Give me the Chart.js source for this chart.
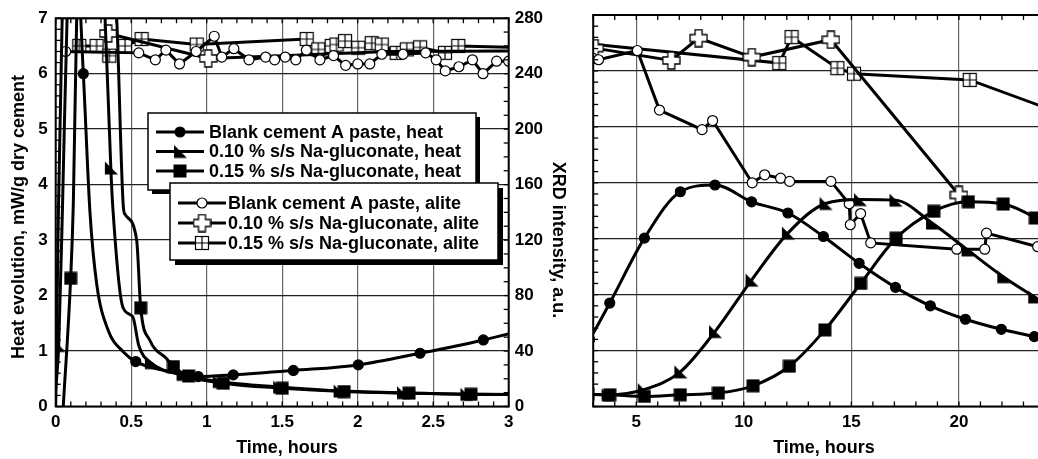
<!DOCTYPE html>
<html>
<head>
<meta charset="utf-8">
<script src="https://cdn.jsdelivr.net/npm/chart.js@4.4.0/dist/chart.umd.min.js"></script>
<style>
  html, body { margin: 0; padding: 0; background: #fff; overflow: hidden; }
  body { width: 1038px; height: 459px; position: relative; }
  #leftChart { position: absolute; left: 0; top: 0; }
  #rightChart { position: absolute; left: 585px; top: 0; }
</style>
</head>
<body>
<canvas id="leftChart" width="585" height="459"></canvas>
<canvas id="rightChart" width="470" height="459"></canvas>
<script>
// Time in hours, heat in mW/g dry cement, alite as XRD intensity (a.u.)
const blankHeatTime = [0, 0.015, 0.05, 0.11, 0.183, 0.227, 0.272, 0.348, 0.45, 0.53, 0.7, 0.944, 1.176, 1.574, 2.004, 2.413, 2.832, 3.77, 5.38, 7.05, 8.66, 10.36, 12.05, 13.7, 15.36, 17.05, 18.67, 20.3, 21.97, 23.5, 24.5];
const blankHeatValue = [0.0, 3.0, 8.0, 9.5, 6.0, 3.5, 2.2, 1.37, 0.98, 0.81, 0.66, 0.54, 0.57, 0.65, 0.75, 0.96, 1.2, 1.85, 3.01, 3.84, 3.96, 3.66, 3.46, 3.04, 2.56, 2.13, 1.80, 1.56, 1.38, 1.25, 1.15];

const gluc10HeatTime = [0, 0.02, 0.045, 0.08, 0.2, 0.327, 0.365, 0.378, 0.445, 0.51, 0.55, 0.63, 0.84, 1.08, 1.48, 1.88, 2.3, 2.72, 3.67, 5.35, 7.05, 8.66, 10.36, 12.05, 13.8, 15.4, 17.05, 18.75, 20.4, 22.06, 23.5, 24.5];
const gluc10HeatValue = [0.3, 1.1, 3.6, 7.5, 12, 7.0, 4.3, 3.6, 1.79, 1.62, 1.1, 0.79, 0.58, 0.45, 0.35, 0.28, 0.25, 0.22, 0.21, 0.30, 0.62, 1.34, 2.26, 3.10, 3.63, 3.70, 3.69, 3.28, 2.80, 2.32, 1.96, 1.72];

const gluc15HeatTime = [0.05, 0.099, 0.117, 0.139, 0.26, 0.404, 0.448, 0.46, 0.536, 0.563, 0.624, 0.735, 0.78, 0.88, 1.11, 1.5, 1.91, 2.34, 2.75, 3.77, 5.38, 7.05, 8.82, 10.43, 12.12, 13.77, 15.43, 17.08, 18.83, 20.44, 22.06, 23.55, 24.5];
const gluc15HeatValue = [0, 2.31, 3.69, 7.0, 12, 7.0, 3.6, 3.46, 3.0, 1.78, 1.19, 0.86, 0.72, 0.55, 0.42, 0.33, 0.27, 0.24, 0.22, 0.21, 0.18, 0.21, 0.24, 0.37, 0.72, 1.37, 2.2, 3.01, 3.49, 3.66, 3.62, 3.37, 3.1];

const blankAliteTime = [0.066, 0.55, 0.66, 0.73, 0.82, 0.93, 1.05, 1.1, 1.18, 1.28, 1.39, 1.45, 1.52, 1.59, 1.66, 1.75, 1.84, 1.92, 2.0, 2.08, 2.16, 2.3, 2.45, 2.52, 2.58, 2.67, 2.76, 2.83, 2.92, 3.0, 3.25, 5.05, 6.08, 8.06, 8.55, 10.39, 10.97, 11.71, 12.13, 14.05, 14.9, 14.95, 15.43, 15.9, 19.9, 21.2, 21.28, 23.66, 24.5];
const blankAliteValue = [256, 255, 250, 257, 247, 256, 267, 252, 258, 250, 252, 250, 252, 250, 257, 250, 253, 246, 247, 247, 254, 254, 255, 250, 242, 245, 250, 240, 249, 249, 248, 254.6, 212, 198, 204.5, 160, 165.7, 163.3, 161, 161, 145, 130, 138, 117, 112.5, 112.5, 124, 114.3, 113];

const gluc10AliteTime = [0.348, 1.01, 1.5, 2.2, 3.07, 6.63, 7.9, 10.37, 14.05, 20.0];
const gluc10AliteValue = [269, 251, 253, 256, 256.3, 247.5, 263.5, 249.9, 262.3, 151.3];

const gluc15AliteTime = [0.156, 0.271, 0.355, 0.459, 0.569, 0.934, 1.662, 1.739, 1.828, 1.86, 1.916, 2.004, 2.093, 2.159, 2.258, 2.325, 2.413, 2.578, 2.666, 3.0, 11.65, 12.22, 14.35, 15.12, 20.5, 24.5];
const gluc15AliteValue = [260, 260, 253, 260, 265, 261, 265, 257.5, 260, 261, 263.5, 258.7, 262, 261, 255, 257.5, 259, 255, 260, 259, 245.6, 264.2, 242, 238, 233.6, 211];

const seriesLabels = [
  'Blank cement A paste, heat',
  '0.10 % s/s Na-gluconate, heat',
  '0.15 % s/s Na-gluconate, heat',
  'Blank cement A paste, alite',
  '0.10 % s/s Na-gluconate, alite',
  '0.15 % s/s Na-gluconate, alite'
];

const FONT = '"Liberation Sans", Arial, Helvetica, sans-serif';

// Marker glyphs
function makeMarker(size, draw) {
  const c = document.createElement('canvas');
  c.width = size;
  c.height = size;
  draw(c.getContext('2d'), size);
  return c;
}

const triMarker = makeMarker(16, g => {
  g.fillStyle = '#000';
  g.beginPath();
  g.moveTo(2, 1.5);
  g.lineTo(2, 14.5);
  g.lineTo(15, 14.5);
  g.closePath();
  g.fill();
});

const squareMarker = makeMarker(14, g => {
  g.fillStyle = '#000';
  g.fillRect(0.5, 0.5, 13, 13);
});

const crossMarker = makeMarker(19, g => {
  const c = 9.5, a = 3.5, b = 8.5;
  const pts = [[c - a, c - b], [c + a, c - b], [c + a, c - a], [c + b, c - a], [c + b, c + a], [c + a, c + a],
               [c + a, c + b], [c - a, c + b], [c - a, c + a], [c - b, c + a], [c - b, c - a], [c - a, c - a]];
  g.beginPath();
  pts.forEach((p, i) => i ? g.lineTo(p[0], p[1]) : g.moveTo(p[0], p[1]));
  g.closePath();
  g.fillStyle = '#fff';
  g.fill();
  g.strokeStyle = '#000';
  g.lineWidth = 1.3;
  g.stroke();
});

const gridMarker = makeMarker(16, g => {
  g.fillStyle = '#fff';
  g.fillRect(1.5, 1.5, 13, 13);
  g.strokeStyle = '#000';
  g.lineWidth = 1.2;
  g.strokeRect(1.5, 1.5, 13, 13);
  g.beginPath();
  g.moveTo(8, 1.5); g.lineTo(8, 14.5);
  g.moveTo(1.5, 8); g.lineTo(14.5, 8);
  g.stroke();
});

const series = [
  { t: blankHeatTime, v: blankHeatValue, axis: 'y', style: 'circle', radius: 5, fill: '#000', plain: [0, 1, 2, 3, 5, 6, 7, 8, 10] },
  { t: gluc10HeatTime, v: gluc10HeatValue, axis: 'y', style: triMarker, radius: 7, fill: '#000', plain: [0, 2, 3, 4, 5, 7, 8, 9, 10] },
  { t: gluc15HeatTime, v: gluc15HeatValue, axis: 'y', style: squareMarker, radius: 7, fill: '#000', plain: [0, 2, 3, 4, 5, 6, 7, 8, 10, 11] },
  { t: blankAliteTime, v: blankAliteValue, axis: 'y2', style: 'circle', radius: 5, fill: '#fff', plain: [] },
  { t: gluc10AliteTime, v: gluc10AliteValue, axis: 'y2', style: crossMarker, radius: 7, fill: '#fff', plain: [2, 3] },
  { t: gluc15AliteTime, v: gluc15AliteValue, axis: 'y2', style: gridMarker, radius: 7, fill: '#fff', plain: [19] }
];

function buildDatasets() {
  return series.map((s, k) => ({
    label: seriesLabels[k],
    data: s.t.map((t, i) => ({ x: t, y: s.v[i] })),
    yAxisID: s.axis,
    borderColor: '#000',
    borderWidth: 3,
    tension: 0,
    cubicInterpolationMode: s.axis === 'y' ? 'monotone' : 'default',
    capBezierPoints: false,
    pointStyle: s.style,
    pointRadius: ctx => s.plain.includes(ctx.dataIndex) ? 0 : s.radius,
    pointBackgroundColor: s.fill,
    pointBorderColor: '#000',
    pointBorderWidth: 1.2,
    clip: 0
  }));
}

// Inward ticks and black frame round the plot area
const framePlugin = {
  id: 'frame',
  afterDatasetsDraw(chart, args, opts) {
    const { ctx, chartArea: a, scales } = chart;
    ctx.save();
    ctx.strokeStyle = '#000';
    ctx.lineWidth = 1.3;
    const len = 5;
    const seg = (x1, y1, x2, y2) => { ctx.beginPath(); ctx.moveTo(x1, y1); ctx.lineTo(x2, y2); ctx.stroke(); };
    const steps = (sc, step, fn) => {
      const n = Math.round((sc.max - sc.min) / step);
      for (let i = 0; i <= n; i++) fn(sc.getPixelForValue(sc.min + i * step));
    };
    steps(scales.x, opts.xMinor, px => { seg(px, a.bottom, px, a.bottom - len); seg(px, a.top, px, a.top + len); });
    steps(scales.y, opts.yMinor, py => seg(a.left, py, a.left + len, py));
    if (opts.y2Minor) steps(scales.y2, opts.y2Minor, py => seg(a.right, py, a.right - len, py));
    ctx.lineWidth = 2;
    ctx.strokeRect(a.left, a.top, a.width, a.height);
    ctx.restore();
  }
};

// Axis titles
const titlePlugin = {
  id: 'titles',
  afterDraw(chart, args, opts) {
    const ctx = chart.ctx;
    ctx.save();
    ctx.fillStyle = '#000';
    ctx.font = 'bold 18px ' + FONT;
    ctx.textAlign = 'center';
    ctx.textBaseline = 'middle';
    opts.items.forEach(it => {
      ctx.save();
      ctx.translate(it.x, it.y);
      ctx.rotate((it.rot || 0) * Math.PI / 180);
      ctx.fillText(it.text, 0, 0);
      ctx.restore();
    });
    ctx.restore();
  }
};

// Two boxed legends with drop shadows
const legendPlugin = {
  id: 'boxLegend',
  afterDraw(chart, args, opts) {
    const ctx = chart.ctx;
    ctx.save();
    opts.boxes.forEach(b => {
      ctx.fillStyle = '#000';
      ctx.fillRect(b.x + b.shadow, b.y + b.shadow, b.w, b.h);
      ctx.fillStyle = '#fff';
      ctx.fillRect(b.x, b.y, b.w, b.h);
      ctx.strokeStyle = '#000';
      ctx.lineWidth = 1.5;
      ctx.strokeRect(b.x, b.y, b.w, b.h);
      b.items.forEach((k, r) => {
        const y = b.rowY[r];
        const s = series[k];
        ctx.strokeStyle = '#000';
        ctx.lineWidth = 3;
        ctx.beginPath();
        ctx.moveTo(b.lineX[0], y);
        ctx.lineTo(b.lineX[1], y);
        ctx.stroke();
        const mx = (b.lineX[0] + b.lineX[1]) / 2;
        if (s.style === 'circle') {
          ctx.beginPath();
          ctx.arc(mx, y, s.radius, 0, Math.PI * 2);
          ctx.fillStyle = s.fill;
          ctx.fill();
          ctx.lineWidth = 1.2;
          ctx.stroke();
        } else {
          ctx.drawImage(s.style, mx - s.style.width / 2, y - s.style.height / 2);
        }
        ctx.fillStyle = '#000';
        ctx.font = 'bold 18px ' + FONT;
        ctx.textAlign = 'left';
        ctx.textBaseline = 'middle';
        ctx.fillText(seriesLabels[k], b.textX, y + 1);
      });
    });
    ctx.restore();
  }
};

const tickFont = { family: FONT, size: 17, weight: 'bold' };

new Chart(document.getElementById('leftChart'), {
  type: 'line',
  data: { datasets: buildDatasets() },
  options: {
    responsive: false,
    animation: false,
    events: [],
    layout: { padding: { top: 15, left: 0, right: 0, bottom: 0 } },
    scales: {
      x: {
        type: 'linear', min: 0, max: 3,
        ticks: {
          stepSize: 0.5, font: tickFont, color: '#000', padding: 6, maxRotation: 0,
          callback: v => String(Math.round(v * 10) / 10)
        },
        grid: { color: '#666', lineWidth: 1.2, drawTicks: false },
        border: { display: false },
        afterFit: s => { s.height = 52.5; }
      },
      y: {
        type: 'linear', position: 'left', min: 0, max: 7,
        ticks: { stepSize: 1, font: tickFont, color: '#000', padding: 8 },
        grid: { color: '#222', lineWidth: 1.3, drawTicks: false },
        border: { display: false },
        afterFit: s => { s.width = 55.7; }
      },
      y2: {
        type: 'linear', position: 'right', min: 0, max: 280,
        ticks: { stepSize: 40, font: tickFont, color: '#000', padding: 6 },
        grid: { drawOnChartArea: false, drawTicks: false },
        border: { display: false },
        afterFit: s => { s.width = 76.3; }
      }
    },
    plugins: {
      legend: { display: false },
      tooltip: { enabled: false },
      frame: { xMinor: 0.1, yMinor: 0.2, y2Minor: 10 },
      titles: {
        items: [
          { text: 'Heat evolution, mW/g dry cement', x: 19, y: 217, rot: -90 },
          { text: 'XRD intensity, a.u.', x: 558, y: 240, rot: 90 },
          { text: 'Time, hours', x: 287, y: 448 }
        ]
      },
      boxLegend: {
        boxes: [
          { x: 148, y: 113, w: 328, h: 77, shadow: 4, items: [0, 1, 2], lineX: [156, 204], textX: 209, rowY: [132, 151.5, 171] },
          { x: 170, y: 183, w: 328, h: 77, shadow: 5, items: [3, 4, 5], lineX: [178, 226], textX: 228, rowY: [203, 223, 243] }
        ]
      }
    }
  },
  plugins: [framePlugin, titlePlugin, legendPlugin]
});

new Chart(document.getElementById('rightChart'), {
  type: 'line',
  data: { datasets: buildDatasets() },
  options: {
    responsive: false,
    animation: false,
    events: [],
    layout: { padding: { top: 15, left: 0, right: 10, bottom: 0 } },
    scales: {
      x: {
        type: 'linear', min: 3, max: 24,
        ticks: {
          stepSize: 1, autoSkip: false, maxRotation: 0, font: tickFont, color: '#000', padding: 6,
          callback: v => (v % 5 === 0 ? String(v) : '')
        },
        grid: {
          color: ctx => (ctx.tick && ctx.tick.value % 5 === 0 ? '#666' : 'rgba(0,0,0,0)'),
          lineWidth: 1.2, drawTicks: false
        },
        border: { display: false },
        afterFit: s => { s.height = 52.5; }
      },
      y: {
        type: 'linear', position: 'left', min: 0, max: 7,
        ticks: { stepSize: 1, display: false },
        grid: { color: '#222', lineWidth: 1.3, drawTicks: false },
        border: { display: false },
        afterFit: s => { s.width = 6.7; }
      },
      y2: {
        type: 'linear', position: 'right', min: 0, max: 280, display: false
      }
    },
    plugins: {
      legend: { display: false },
      tooltip: { enabled: false },
      frame: { xMinor: 1, yMinor: 0.2 },
      titles: { items: [{ text: 'Time, hours', x: 239, y: 448 }] }
    }
  },
  plugins: [framePlugin, titlePlugin]
});
</script>
</body>
</html>
